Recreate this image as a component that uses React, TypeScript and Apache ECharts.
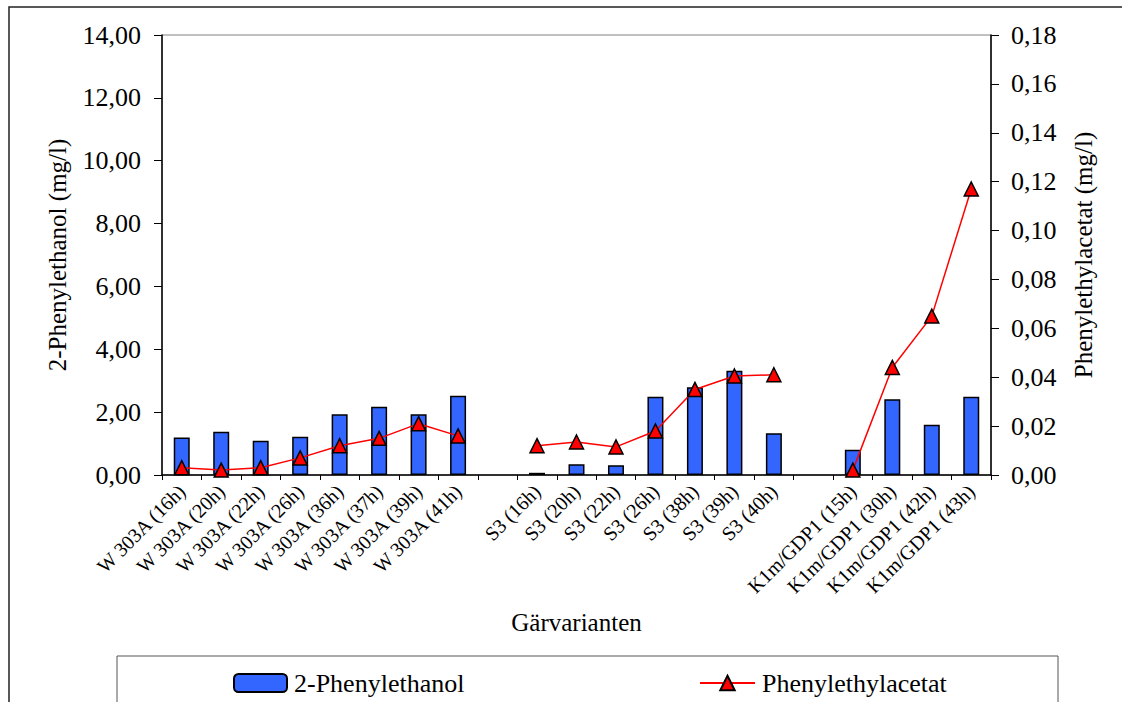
import React, { useEffect, useRef } from "react";
import * as echarts from "echarts";

const categories = [
  "W 303A (16h)", "W 303A (20h)", "W 303A (22h)", "W 303A (26h)",
  "W 303A (36h)", "W 303A (37h)", "W 303A (39h)", "W 303A (41h)",
  "",
  "S3 (16h)", "S3 (20h)", "S3 (22h)", "S3 (26h)", "S3 (38h)", "S3 (39h)", "S3 (40h)",
  "",
  "K1m/GDP1 (15h)", "K1m/GDP1 (30h)", "K1m/GDP1 (42h)", "K1m/GDP1 (43h)",
];

const phenylethanol = [
  1.19, 1.38, 1.09, 1.22, 1.93, 2.17, 1.93, 2.52,
  null,
  0.07, 0.34, 0.31, 2.49, 2.79, 3.32, 1.33,
  null,
  0.8, 2.41, 1.6, 2.49,
];

const phenylethylacetat = [
  0.003, 0.002, 0.003, 0.007, 0.012, 0.015, 0.021, 0.016,
  null,
  0.012, 0.0135, 0.0115, 0.018, 0.035, 0.0405, 0.041,
  null,
  0.002, 0.044, 0.065, 0.117,
];

const FONT = "'Liberation Serif', 'Times New Roman', serif";
const fmt = (v: number) => v.toFixed(2).replace(".", ",");

export default function App() {
  const ref = useRef<HTMLDivElement>(null);
  useEffect(() => {
    if (!ref.current) return;
    const chart = echarts.init(ref.current, undefined, { renderer: "svg" });
    chart.setOption({
      animation: false,
      backgroundColor: "#ffffff",
      textStyle: { fontFamily: FONT, color: "#000" },
      grid: {
        left: 162, top: 35, width: 829, height: 440,
        show: true, borderColor: "#808080", borderWidth: 1,
        backgroundColor: "transparent",
      },
      legend: [
        {
          data: ["2-Phenylethanol"], left: 233, top: 670,
          itemWidth: 53, itemHeight: 18, itemGap: 0, padding: 0,
          textStyle: { fontFamily: FONT, fontSize: 26, color: "#000", padding: [0, 0, 0, 2] },
        },
        {
          data: ["Phenylethylacetat"], left: 699, top: 670,
          itemWidth: 55, itemHeight: 18, itemGap: 0, padding: 0,
          textStyle: { fontFamily: FONT, fontSize: 26, color: "#000", padding: [0, 0, 0, 2] },
        },
      ],
      xAxis: {
        type: "category",
        data: categories,
        name: "Gärvarianten",
        nameLocation: "middle",
        nameGap: 135,
        nameTextStyle: { fontFamily: FONT, fontSize: 25, color: "#000" },
        axisLine: { lineStyle: { color: "#000", width: 1.5 } },
        axisTick: { show: true, interval: 0, length: 5, lineStyle: { color: "#000" } },
        axisLabel: { interval: 0, rotate: 45, fontFamily: FONT, fontSize: 20, color: "#000", margin: 13 },
      },
      yAxis: [
        {
          type: "value", min: 0, max: 14, interval: 2,
          name: "2-Phenylethanol (mg/l)",
          nameLocation: "middle", nameGap: 92,
          nameTextStyle: { fontFamily: FONT, fontSize: 25, color: "#000" },
          axisLine: { show: true, lineStyle: { color: "#000", width: 1.5 } },
          axisTick: { show: true, length: 8, lineStyle: { color: "#000" } },
          splitLine: { show: false },
          axisLabel: { formatter: fmt, fontFamily: FONT, fontSize: 26, color: "#000", margin: 21 },
        },
        {
          type: "value", min: 0, max: 0.18, interval: 0.02,
          name: "Phenylethylacetat (mg/l)",
          nameLocation: "middle", nameGap: 80,
          nameTextStyle: { fontFamily: FONT, fontSize: 25, color: "#000" },
          axisLine: { show: true, lineStyle: { color: "#000", width: 1.5 } },
          axisTick: { show: true, length: 8, lineStyle: { color: "#000" } },
          splitLine: { show: false },
          axisLabel: { formatter: fmt, fontFamily: FONT, fontSize: 26, color: "#000", margin: 20 },
        },
      ],
      series: [
        {
          name: "2-Phenylethanol",
          type: "bar",
          data: phenylethanol,
          barWidth: 16,
          itemStyle: { color: "#3366FF", borderColor: "#000", borderWidth: 1.5 },
        },
        {
          name: "Phenylethylacetat",
          type: "line",
          yAxisIndex: 1,
          data: phenylethylacetat,
          connectNulls: false,
          symbol: "triangle",
          symbolSize: 14,
          lineStyle: { color: "#ff0000", width: 1.5 },
          itemStyle: { color: "#ff0000", borderColor: "#000", borderWidth: 1.5 },
          z: 3,
        },
      ],
      graphic: [
        {
          type: "rect",
          shape: { x: 9, y: 7, width: 1300, height: 800 },
          style: { fill: "none", stroke: "#222", lineWidth: 1.5 },
          silent: true,
        },
        {
          type: "rect",
          shape: { x: 117, y: 656, width: 941, height: 100 },
          style: { fill: "none", stroke: "#555", lineWidth: 1 },
          silent: true,
        },
      ],
    });
    return () => chart.dispose();
  }, []);
  return (
    <div
      ref={ref}
      style={{ position: "fixed", left: 0, top: 0, width: 1122, height: 702 }}
    />
  );
}
